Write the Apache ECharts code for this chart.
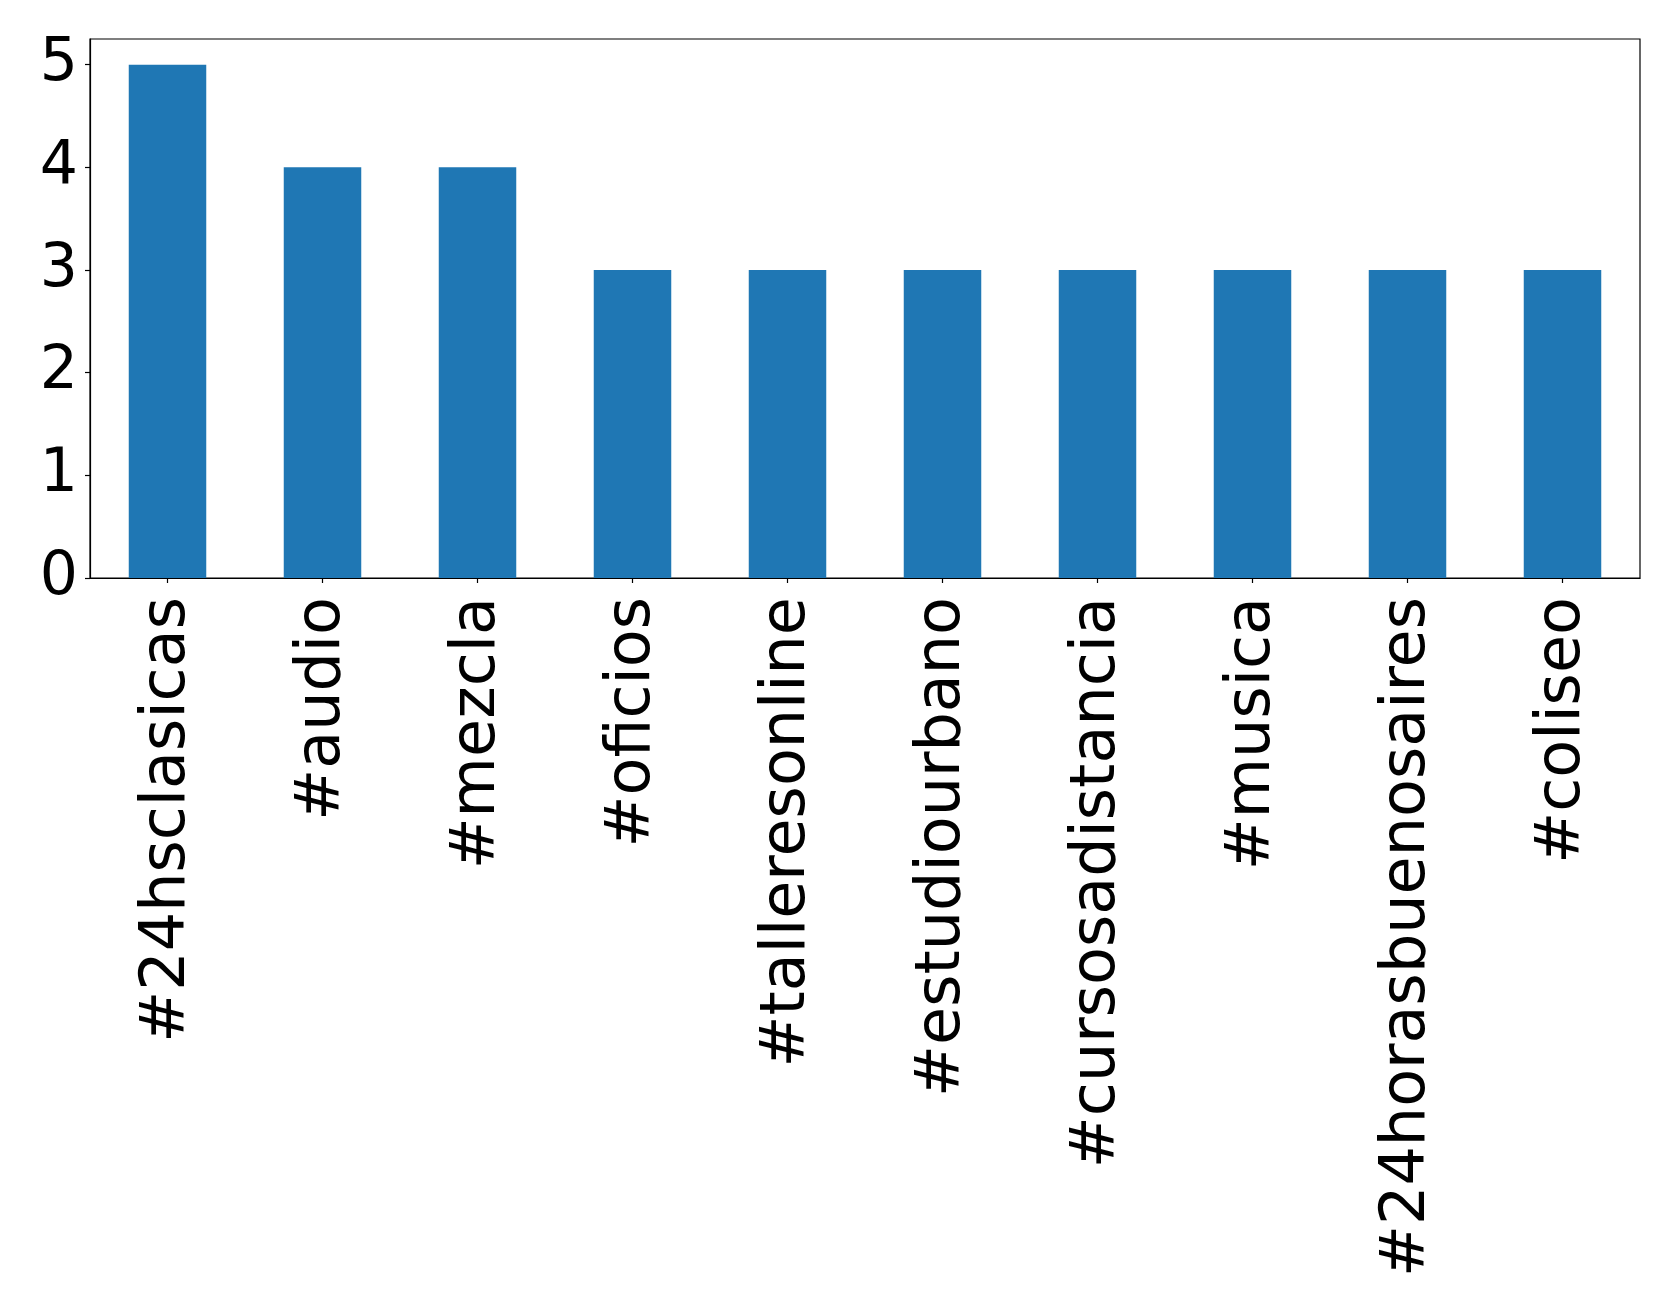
<!DOCTYPE html>
<html>
<head>
<meta charset="utf-8">
<script src="https://cdn.jsdelivr.net/npm/echarts@6/dist/echarts.min.js"></script>
<style>
html,body{margin:0;padding:0;background:#fff;}
#c{width:1679px;height:1313px;}
</style>
</head>
<body>
<div id="c"></div>
<script>
const categories = ['#24hsclasicas','#audio','#mezcla','#oficios','#talleresonline','#estudiourbano','#cursosadistancia','#musica','#24horasbuenosaires','#coliseo'];
const values = [5,4,4,3,3,3,3,3,3,3];
const yTicks = [0,1,2,3,4,5];

const chart = echarts.init(document.getElementById('c'), null, {renderer:'canvas'});
chart.setOption({
  animation:false,
  backgroundColor:'#fff',
  grid:{left:90,top:39,right:39,bottom:735,show:true,borderColor:'#000',borderWidth:1.2,backgroundColor:'transparent'},
  xAxis:{
    type:'category',
    data:categories,
    boundaryGap:true,
    axisLine:{show:true,lineStyle:{color:'#000',width:1.2}},
    axisTick:{show:true,alignWithLabel:true,length:5,lineStyle:{color:'#000',width:1.2}},
    axisLabel:{rotate:90,margin:19,color:'#000',fontSize:62,fontFamily:'DejaVu Sans',interval:0},
    splitLine:{show:false}
  },
  yAxis:{
    type:'value',
    min:0,max:5.25,interval:1,
    axisLine:{show:true,lineStyle:{color:'#000',width:1.2}},
    axisTick:{show:true,length:5,lineStyle:{color:'#000',width:1.2},customValues:yTicks},
    axisLabel:{margin:12,color:'#000',fontSize:60,fontFamily:'DejaVu Sans',customValues:yTicks},
    splitLine:{show:false}
  },
  series:[{
    type:'bar',
    data:values,
    barWidth:'50%',
    itemStyle:{color:'#1f77b4'}
  }]
});
</script>
</body>
</html>
